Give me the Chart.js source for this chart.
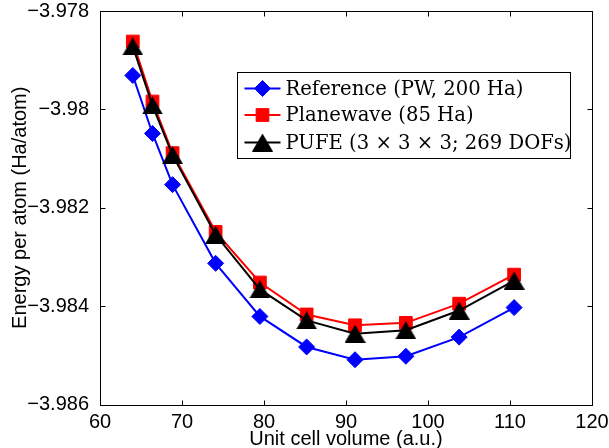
<!DOCTYPE html>
<html>
<head>
<meta charset="utf-8">
<script src="https://cdn.jsdelivr.net/npm/chart.js@4/dist/chart.umd.min.js"></script>
<style>
  html, body { margin: 0; padding: 0; background: #fff; }
  #wrap { width: 609px; height: 448px; }
</style>
</head>
<body>
<div id="wrap"><canvas id="energyChart" width="609" height="448"></canvas></div>
<script>
// unit cell volumes (a.u.)
const volumes = [64.0, 66.4, 68.85, 74.1, 79.5, 85.2, 91.1, 97.3, 103.8, 110.5];

// energy per atom (Ha/atom)
const referenceEnergy = [-3.97931, -3.98049, -3.98153, -3.98313, -3.98421, -3.98483, -3.98509, -3.98502, -3.98463, -3.98403];
const planewaveEnergy = [-3.97862, -3.97984, -3.98089, -3.98249, -3.98352, -3.98417, -3.98439, -3.98434, -3.98395, -3.98336];
const pufeEnergy      = [-3.97872, -3.97992, -3.98093, -3.98255, -3.98366, -3.98429, -3.98456, -3.98449, -3.98409, -3.98348];

const seriesLabels = ['Reference (PW, 200 Ha)', 'Planewave (85 Ha)', 'PUFE (3 \u00d7 3 \u00d7 3; 269 DOFs)'];

const xTicks = [60, 70, 80, 90, 100, 110, 120];
const yTicks = [-3.986, -3.984, -3.982, -3.98, -3.978];

const sansFont = '"Liberation Sans", Arial, Helvetica, sans-serif';
const serifFont = '"DejaVu Serif", "Liberation Serif", serif';

// triangle marker centred on its bounding box (like MATLAB '^')
function triangleMarker(w, h, color) {
    const c = document.createElement('canvas');
    c.width = w;
    c.height = h;
    const g = c.getContext('2d');
    g.fillStyle = color;
    g.beginPath();
    g.moveTo(w / 2, 0);
    g.lineTo(w, h);
    g.lineTo(0, h);
    g.closePath();
    g.fill();
    return c;
}

function toPoints(values) {
    return values.map((v, i) => ({ x: volumes[i], y: v }));
}

// no extra room for overhanging tick labels, layout padding decides
function noLabelPadding(scale) {
    scale.paddingTop = 0;
    scale.paddingBottom = 0;
    scale.paddingLeft = 0;
    scale.paddingRight = 0;
}

// box frame + inward tick marks on all four sides
const frameTicks = {
    id: 'frameTicks',
    afterDatasetsDraw(chart) {
        const { ctx, chartArea: a, scales: { x, y } } = chart;
        const L = Math.round(a.left) + 0.5, R = Math.round(a.right) + 0.5;
        const T = Math.round(a.top) + 0.5, B = Math.round(a.bottom) + 0.5;
        const len = 5;
        ctx.save();
        ctx.strokeStyle = '#000';
        ctx.lineWidth = 1;
        ctx.strokeRect(L, T, R - L, B - T);
        ctx.beginPath();
        x.ticks.forEach(t => {
            const px = Math.round(x.getPixelForValue(t.value)) + 0.5;
            ctx.moveTo(px, B); ctx.lineTo(px, B - len);
            ctx.moveTo(px, T); ctx.lineTo(px, T + len);
        });
        y.ticks.forEach(t => {
            const py = Math.round(y.getPixelForValue(t.value)) + 0.5;
            ctx.moveTo(L, py); ctx.lineTo(L + len, py);
            ctx.moveTo(R, py); ctx.lineTo(R - len, py);
        });
        ctx.stroke();
        ctx.restore();
    }
};

// boxed legend inside the plot area
const boxLegend = {
    id: 'boxLegend',
    afterDraw(chart) {
        const { ctx, chartArea: a } = chart;
        const left = a.left + 137.5, top = a.top + 61.5;
        const w = 333, h = 86;
        const rowY = [16, 42.5, 70];
        ctx.save();
        ctx.fillStyle = '#fff';
        ctx.fillRect(left, top, w, h);
        ctx.strokeStyle = '#000';
        ctx.lineWidth = 1;
        ctx.strokeRect(left, top, w, h);

        // fit text size so the first label spans ~238px
        ctx.font = '20px ' + serifFont;
        const size = 20 * 238 / ctx.measureText(seriesLabels[0]).width;
        ctx.font = size.toFixed(2) + 'px ' + serifFont;
        ctx.textBaseline = 'middle';
        ctx.textAlign = 'left';

        chart.data.datasets.forEach((ds, i) => {
            const cy = top + rowY[i];
            ctx.strokeStyle = ds.borderColor;
            ctx.lineWidth = 2;
            ctx.beginPath();
            ctx.moveTo(left + 7, cy);
            ctx.lineTo(left + 43, cy);
            ctx.stroke();
            ctx.fillStyle = ds.pointBackgroundColor;
            ctx.strokeStyle = ds.pointBorderColor;
            ctx.lineWidth = 1;
            Chart.helpers.drawPoint(ctx, {
                pointStyle: ds.pointStyle,
                radius: ds.pointRadius,
                borderWidth: 1,
                rotation: 0
            }, left + 25, cy);
            ctx.fillStyle = '#000';
            ctx.fillText(ds.label, left + 48, cy + 1);
        });
        ctx.restore();
    }
};

const ctx = document.getElementById('energyChart').getContext('2d');
const energyChart = new Chart(ctx, {
    type: 'line',
    data: {
        datasets: [
            {
                label: seriesLabels[0],
                data: toPoints(referenceEnergy),
                borderColor: '#0000ff',
                borderWidth: 2,
                pointStyle: 'rectRot',
                pointRadius: 8,
                pointBackgroundColor: '#0000ff',
                pointBorderColor: '#0000ff',
                pointBorderWidth: 1,
                order: 2
            },
            {
                label: seriesLabels[1],
                data: toPoints(planewaveEnergy),
                borderColor: '#ff0000',
                borderWidth: 2,
                pointStyle: 'rect',
                pointRadius: 9,
                pointBackgroundColor: '#ff0000',
                pointBorderColor: '#ff0000',
                pointBorderWidth: 1,
                order: 1
            },
            {
                label: seriesLabels[2],
                data: toPoints(pufeEnergy),
                borderColor: '#000000',
                borderWidth: 2,
                pointStyle: triangleMarker(21, 18, '#000'),
                pointRadius: 10,
                pointBackgroundColor: '#000000',
                pointBorderColor: '#000000',
                pointBorderWidth: 1,
                order: 0
            }
        ]
    },
    options: {
        responsive: false,
        animation: false,
        events: [],
        layout: { padding: { top: 9, right: 17, left: 0, bottom: 0 } },
        plugins: {
            legend: { display: false },
            tooltip: { enabled: false }
        },
        scales: {
            x: {
                type: 'linear',
                min: xTicks[0],
                max: xTicks[xTicks.length - 1],
                afterBuildTicks: scale => { scale.ticks = xTicks.map(v => ({ value: v })); },
                afterFit: scale => { scale.height = 43.5; noLabelPadding(scale); },
                grid: { display: false },
                border: { display: false },
                ticks: {
                    color: '#000',
                    padding: -2,
                    maxRotation: 0,
                    font: { family: sansFont, size: 20 }
                },
                title: {
                    display: true,
                    text: 'Unit cell volume (a.u.)',
                    color: '#000',
                    padding: { top: 0, bottom: -3 },
                    font: { family: sansFont, size: 20 }
                }
            },
            y: {
                type: 'linear',
                min: yTicks[0],
                max: yTicks[yTicks.length - 1],
                afterBuildTicks: scale => { scale.ticks = yTicks.map(v => ({ value: v })); },
                afterFit: scale => { scale.width = 100; noLabelPadding(scale); },
                grid: { display: false },
                border: { display: false },
                ticks: {
                    color: '#000',
                    padding: 3,
                    font: { family: sansFont, size: 20 },
                    callback: v => String(+v.toFixed(3)).replace('-', '\u2212')
                },
                title: {
                    display: true,
                    text: 'Energy per atom (Ha/atom)',
                    color: '#000',
                    padding: { top: 8, bottom: 0 },
                    font: { family: sansFont, size: 20 }
                }
            }
        }
    },
    plugins: [frameTicks, boxLegend]
});
</script>
</body>
</html>
